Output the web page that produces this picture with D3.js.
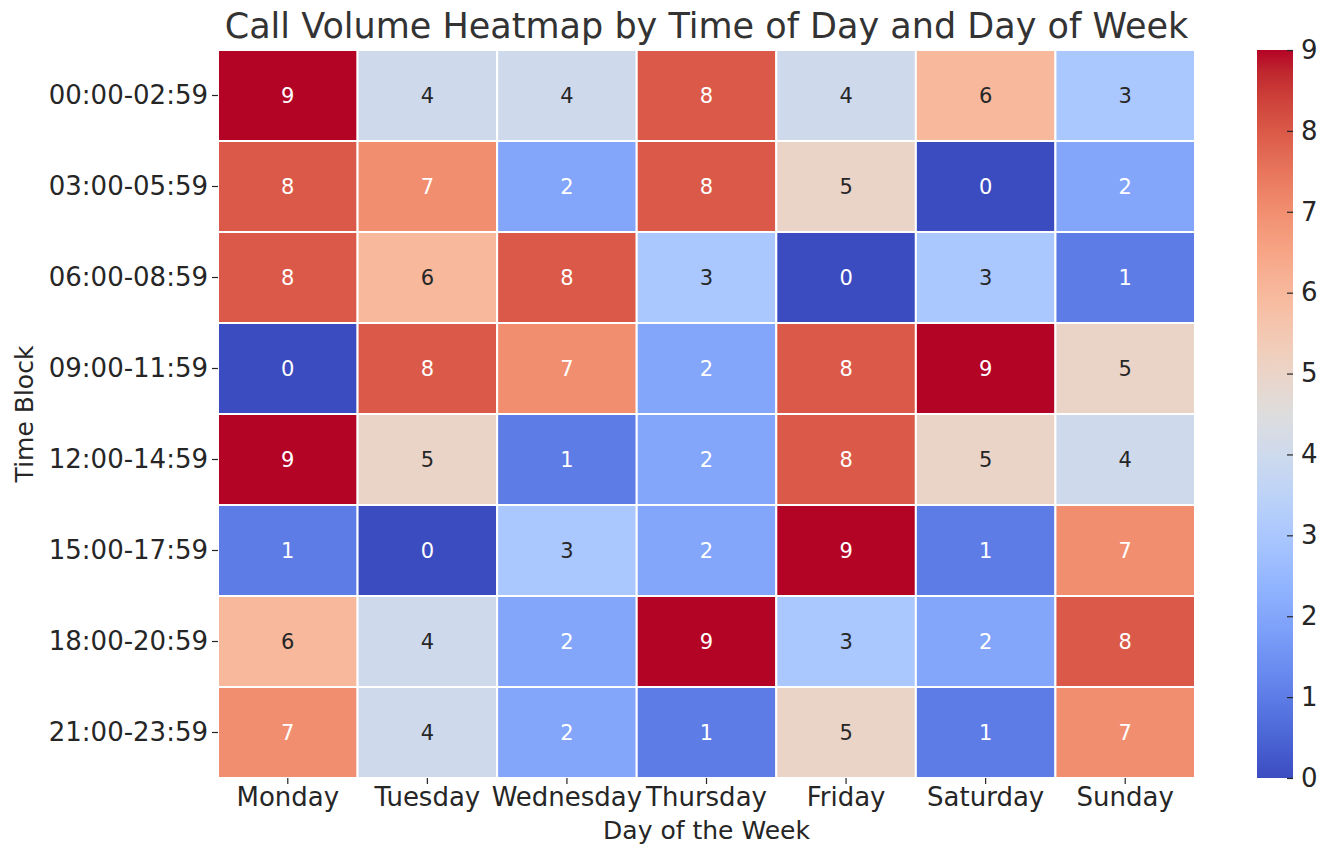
<!DOCTYPE html>
<html>
<head>
<meta charset="utf-8">
<script src="https://cdn.jsdelivr.net/npm/d3@7"></script>
<style>
  body { margin: 0; background: #fff; }
  text { font-family: "DejaVu Sans", sans-serif; fill: #262626; }
</style>
</head>
<body>
<svg id="chart"></svg>
<script>
const width = 1328;
const height = 849;
const margin = {left: 218, right: 133, top: 50, bottom: 71};

const days = ['Monday', 'Tuesday', 'Wednesday', 'Thursday', 'Friday', 'Saturday', 'Sunday'];
const timeBlocks = ['00:00-02:59', '03:00-05:59', '06:00-08:59', '09:00-11:59',
  '12:00-14:59', '15:00-17:59', '18:00-20:59', '21:00-23:59'];
// one row per time block, Monday..Sunday
const callVolume = [
  [9, 4, 4, 8, 4, 6, 3],
  [8, 7, 2, 8, 5, 0, 2],
  [8, 6, 8, 3, 0, 3, 1],
  [0, 8, 7, 2, 8, 9, 5],
  [9, 5, 1, 2, 8, 5, 4],
  [1, 0, 3, 2, 9, 1, 7],
  [6, 4, 2, 9, 3, 2, 8],
  [7, 4, 2, 1, 5, 1, 7]
];
const colorTicks = [0, 1, 2, 3, 4, 5, 6, 7, 8, 9];

// matplotlib "coolwarm" control points
const coolwarm = [
  [59, 76, 192], [68, 90, 204], [77, 104, 215], [87, 117, 225], [98, 130, 234],
  [108, 142, 241], [119, 154, 247], [130, 165, 251], [141, 176, 254], [152, 185, 255],
  [163, 194, 255], [174, 201, 253], [184, 208, 249], [194, 213, 244], [204, 217, 238],
  [213, 219, 230], [221, 221, 221], [229, 216, 209], [236, 211, 197], [241, 204, 184],
  [245, 196, 172], [247, 187, 160], [247, 177, 148], [247, 166, 135], [244, 154, 123],
  [241, 141, 111], [236, 127, 99], [229, 112, 88], [222, 96, 77], [213, 80, 66],
  [203, 62, 56], [192, 40, 47], [180, 4, 38]
].map(c => d3.rgb(c[0], c[1], c[2]).toString());
const coolwarmInterp = d3.piecewise(d3.interpolateRgb, coolwarm);

const chartW = width - margin.left - margin.right;
const chartH = height - margin.top - margin.bottom;

const svg = d3.select('#chart')
  .attr('width', width)
  .attr('height', height);

const g = svg.append('g')
  .attr('transform', `translate(${margin.left}, ${margin.top})`);

const xScale = d3.scaleBand().domain(days).range([0, chartW]);
const yScale = d3.scaleBand().domain(timeBlocks).range([0, chartH]);
const colorScale = d3.scaleSequential(coolwarmInterp).domain([0, 9]);

const cells = [];
callVolume.forEach((row, i) => {
  row.forEach((v, j) => {
    cells.push({day: days[j], block: timeBlocks[i], value: v});
  });
});

g.selectAll('rect.cell')
  .data(cells)
  .enter()
  .append('rect')
  .attr('class', 'cell')
  .attr('x', d => xScale(d.day))
  .attr('y', d => yScale(d.block))
  .attr('width', xScale.bandwidth())
  .attr('height', yScale.bandwidth())
  .attr('fill', d => colorScale(d.value))
  .attr('stroke', '#fff')
  .attr('stroke-width', 2);

// white text on dark cells, dark text on light cells (like seaborn)
function textColor(v) {
  const c = d3.rgb(colorScale(v));
  const lin = x => { x /= 255; return x <= 0.03928 ? x / 12.92 : Math.pow((x + 0.055) / 1.055, 2.4); };
  const lum = 0.2126 * lin(c.r) + 0.7152 * lin(c.g) + 0.0722 * lin(c.b);
  return lum > 0.408 ? '#262626' : '#ffffff';
}

g.selectAll('text.annot')
  .data(cells)
  .enter()
  .append('text')
  .attr('class', 'annot')
  .attr('x', d => xScale(d.day) + xScale.bandwidth() / 2)
  .attr('y', d => yScale(d.block) + yScale.bandwidth() / 2)
  .attr('text-anchor', 'middle')
  .attr('dominant-baseline', 'central')
  .style('font-size', '21px')
  .style('fill', d => textColor(d.value))
  .text(d => d.value);

// axes
const xAxis = g.append('g')
  .attr('transform', `translate(0, ${chartH})`)
  .call(d3.axisBottom(xScale).tickSize(6).tickPadding(4));
const yAxis = g.append('g')
  .call(d3.axisLeft(yScale).tickSize(6).tickPadding(4));
[xAxis, yAxis].forEach(ax => {
  ax.select('.domain').remove();
  ax.selectAll('.tick line').attr('stroke', '#262626').attr('stroke-width', 1.2);
  ax.selectAll('.tick text').style('font-size', '26px').style('font-family', '"DejaVu Sans", sans-serif').attr('fill', '#262626');
});
xAxis.selectAll('.tick text').attr('dy', '0.7em');

// titles
svg.append('text')
  .attr('x', margin.left + chartW / 2)
  .attr('y', 38)
  .attr('text-anchor', 'middle')
  .style('font-size', '35px')
  .style('fill', '#333')
  .text('Call Volume Heatmap by Time of Day and Day of Week');

svg.append('text')
  .attr('x', margin.left + chartW / 2)
  .attr('y', 839)
  .attr('text-anchor', 'middle')
  .style('font-size', '25px')
  .text('Day of the Week');

const yLabelX = 33;
const yLabelY = margin.top + chartH / 2;
svg.append('text')
  .attr('x', yLabelX)
  .attr('y', yLabelY)
  .attr('text-anchor', 'middle')
  .attr('transform', `rotate(-90, ${yLabelX}, ${yLabelY})`)
  .style('font-size', '25px')
  .text('Time Block');

// colorbar
const barX = 1257;
const barW = 36;
const defs = svg.append('defs');
const grad = defs.append('linearGradient')
  .attr('id', 'cbar')
  .attr('x1', 0).attr('y1', 1).attr('x2', 0).attr('y2', 0);
coolwarm.forEach((c, i) => {
  grad.append('stop')
    .attr('offset', i / (coolwarm.length - 1))
    .attr('stop-color', c);
});
svg.append('rect')
  .attr('x', barX)
  .attr('y', margin.top)
  .attr('width', barW)
  .attr('height', chartH)
  .attr('fill', 'url(#cbar)');

const cScale = d3.scaleLinear().domain([0, 9]).range([margin.top + chartH, margin.top]);
const cAxis = svg.append('g')
  .attr('transform', `translate(${barX + barW}, 0)`)
  .call(d3.axisRight(cScale).tickValues(colorTicks).tickFormat(d3.format('d')).tickSize(6).tickPadding(4));
cAxis.select('.domain').remove();
cAxis.selectAll('.tick line').attr('stroke', '#262626').attr('stroke-width', 1.2).attr('x1', -6).attr('x2', 0);
cAxis.selectAll('.tick text').attr('x', 8).style('font-size', '26px').style('font-family', '"DejaVu Sans", sans-serif').attr('fill', '#262626');
</script>
</body>
</html>
